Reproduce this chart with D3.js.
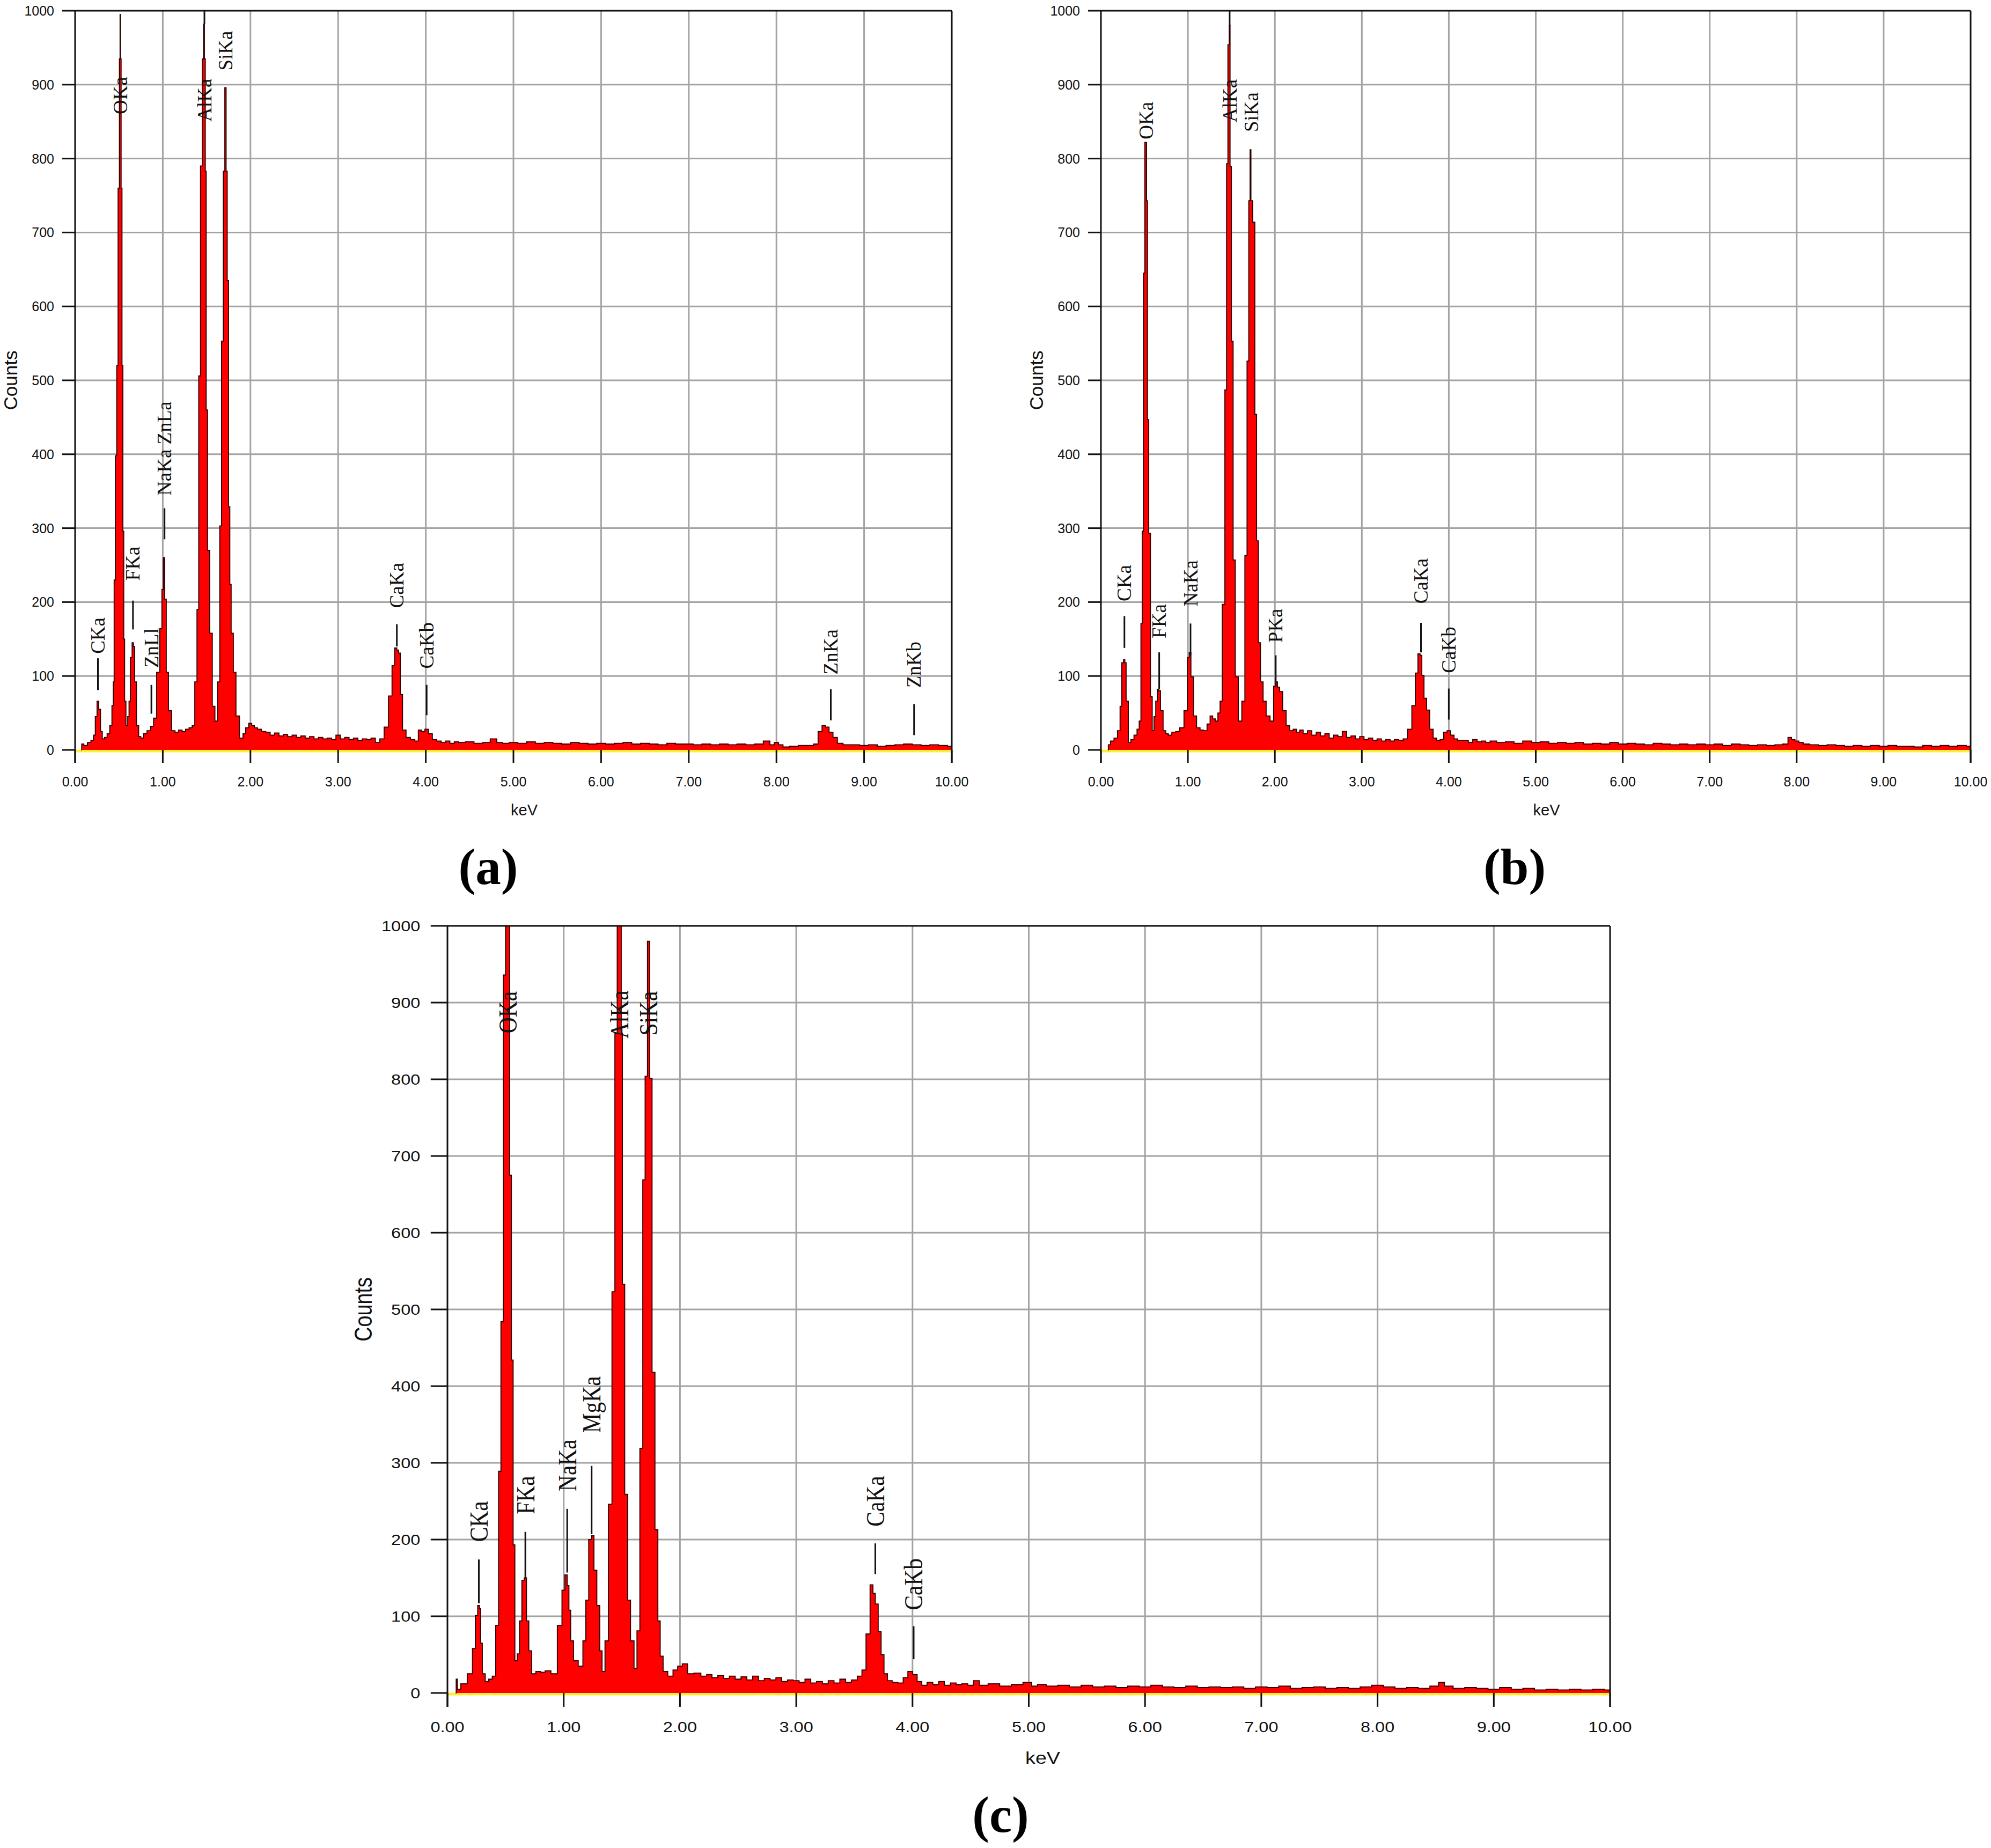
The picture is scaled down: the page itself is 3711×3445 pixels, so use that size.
<!DOCTYPE html>
<html>
<head>
<meta charset="utf-8">
<script src="https://cdn.jsdelivr.net/npm/d3@7/dist/d3.min.js"></script>
<style>
  html, body { margin: 0; padding: 0; background: #fff; }
  svg { display: block; }
</style>
</head>
<body>
<script>
// ---------------- DATA ----------------
const xTicks = [0, 1, 2, 3, 4, 5, 6, 7, 8, 9, 10];
const xTickLabels = ["0.00","1.00","2.00","3.00","4.00","5.00","6.00","7.00","8.00","9.00","10.00"];
const yTicks = [0, 100, 200, 300, 400, 500, 600, 700, 800, 900, 1000];
const yTickLabels = ["0","100","200","300","400","500","600","700","800","900","1000"];
const xTitle = "keV";
const yTitle = "Counts";
const captions = ["(a)", "(b)", "(c)"];

// spectrum (a): [keV, counts]
const specA = [
  [0.07,0],[0.08,8],[0.12,6],[0.16,10],[0.20,13],[0.22,20],[0.24,45],[0.26,66],[0.28,55],[0.30,25],
  [0.32,15],[0.35,17],[0.38,22],[0.41,33],[0.43,60],[0.44,92],[0.45,230],[0.47,398],[0.48,520],[0.50,760],
  [0.51,935],[0.515,995],[0.52,935],[0.53,760],[0.54,520],[0.55,296],[0.56,150],[0.57,66],[0.59,33],[0.61,45],
  [0.62,66],[0.64,125],[0.66,145],[0.67,140],[0.69,92],[0.71,33],[0.74,18],[0.76,16],[0.80,22],[0.84,26],
  [0.88,32],[0.91,43],[0.95,105],[0.98,164],[1.00,217],[1.015,260],[1.03,204],[1.05,105],[1.08,53],[1.12,26],
  [1.16,24],[1.20,27],[1.24,25],[1.28,28],[1.32,30],[1.35,33],[1.38,92],[1.40,190],[1.42,506],[1.44,790],
  [1.46,935],[1.47,982],[1.48,935],[1.49,783],[1.50,460],[1.52,270],[1.55,158],[1.58,59],[1.61,39],[1.64,92],
  [1.66,303],[1.68,553],[1.70,783],[1.715,896],[1.73,783],[1.74,635],[1.76,329],[1.77,224],[1.79,158],[1.82,105],
  [1.85,46],[1.90,16],[1.93,22],[1.96,30],[2.00,36],[2.03,33],[2.06,30],[2.10,28],[2.15,25],[2.20,24],
  [2.25,20],[2.30,23],[2.35,19],[2.40,21],[2.45,18],[2.50,20],[2.55,17],[2.60,19],[2.65,16],[2.70,18],
  [2.75,15],[2.80,17],[2.85,15],[2.90,16],[2.95,14],[3.00,20],[3.05,15],[3.10,17],[3.15,14],[3.20,16],
  [3.25,13],[3.30,15],[3.35,14],[3.40,16],[3.45,10],[3.50,15],[3.55,31],[3.60,73],[3.63,114],[3.66,138],
  [3.68,135],[3.70,131],[3.72,75],[3.75,27],[3.80,17],[3.85,14],[3.90,12],[3.93,27],[3.97,25],[4.01,28],
  [4.05,22],[4.10,14],[4.15,12],[4.20,10],[4.25,12],[4.30,9],[4.35,11],[4.40,10],[4.50,11],[4.60,9],
  [4.70,10],[4.77,15],[4.85,10],[4.90,9],[5.00,10],[5.10,9],[5.20,11],[5.30,9],[5.40,10],[5.50,9],
  [5.60,8],[5.70,10],[5.80,9],[5.90,8],[6.00,9],[6.10,8],[6.20,9],[6.30,10],[6.40,8],[6.50,9],
  [6.60,8],[6.70,7],[6.80,9],[6.90,8],[7.00,8],[7.10,7],[7.20,8],[7.30,7],[7.40,8],[7.50,7],
  [7.60,8],[7.70,7],[7.80,8],[7.90,12],[7.95,7],[8.00,10],[8.05,7],[8.10,4],[8.20,5],[8.30,6],
  [8.40,6],[8.45,8],[8.50,25],[8.54,33],[8.58,31],[8.62,24],[8.67,17],[8.72,9],[8.80,7],[8.90,7],
  [9.00,6],[9.10,7],[9.20,5],[9.30,6],[9.40,7],[9.50,8],[9.60,7],[9.70,6],[9.80,7],[9.90,6],[10.00,5]
];

// spectrum (b)
const specB = [
  [0.08,0],[0.09,7],[0.13,12],[0.17,16],[0.21,26],[0.23,59],[0.25,118],[0.27,122],[0.28,118],[0.30,66],
  [0.33,10],[0.36,14],[0.40,20],[0.43,28],[0.45,39],[0.47,171],[0.48,296],[0.50,645],[0.51,822],[0.52,822],
  [0.53,743],[0.54,447],[0.56,293],[0.58,72],[0.60,26],[0.62,45],[0.64,66],[0.66,82],[0.67,80],[0.70,53],
  [0.73,26],[0.76,22],[0.79,20],[0.84,24],[0.88,25],[0.93,30],[0.98,53],[1.01,125],[1.02,132],[1.05,99],
  [1.08,46],[1.12,30],[1.16,27],[1.20,26],[1.24,35],[1.27,46],[1.30,42],[1.33,39],[1.36,50],[1.38,66],
  [1.41,197],[1.44,487],[1.45,793],[1.47,954],[1.48,980],[1.49,789],[1.51,553],[1.53,257],[1.56,99],[1.60,39],
  [1.64,66],[1.67,263],[1.69,526],[1.71,743],[1.72,812],[1.73,743],[1.76,714],[1.78,454],[1.80,283],[1.82,145],
  [1.85,92],[1.88,66],[1.92,46],[1.97,39],[2.00,86],[2.02,92],[2.04,85],[2.07,79],[2.11,53],[2.15,33],
  [2.19,26],[2.23,28],[2.27,24],[2.30,27],[2.35,22],[2.40,26],[2.45,20],[2.50,24],[2.55,19],[2.60,22],
  [2.65,16],[2.70,20],[2.75,18],[2.80,25],[2.85,17],[2.90,19],[2.95,15],[3.00,18],[3.05,14],[3.10,16],
  [3.15,13],[3.20,15],[3.25,12],[3.30,14],[3.35,12],[3.40,14],[3.45,13],[3.50,15],[3.55,28],[3.60,60],
  [3.63,104],[3.66,130],[3.68,128],[3.70,101],[3.73,70],[3.76,54],[3.80,28],[3.84,16],[3.88,13],[3.92,14],
  [3.96,24],[4.00,26],[4.04,20],[4.08,15],[4.12,13],[4.20,13],[4.25,10],[4.30,14],[4.35,11],[4.40,12],
  [4.45,10],[4.50,12],[4.60,10],[4.70,11],[4.80,9],[4.90,12],[5.00,10],[5.10,11],[5.20,9],[5.30,10],
  [5.40,9],[5.50,10],[5.60,8],[5.70,9],[5.80,8],[5.90,10],[6.00,8],[6.10,9],[6.20,8],[6.30,7],
  [6.40,9],[6.50,8],[6.60,7],[6.70,8],[6.80,7],[6.90,8],[7.00,7],[7.10,8],[7.20,6],[7.30,8],
  [7.40,7],[7.50,6],[7.60,7],[7.70,6],[7.80,7],[7.88,8],[7.92,17],[7.96,14],[8.00,12],[8.05,10],
  [8.10,8],[8.20,7],[8.30,6],[8.40,7],[8.50,6],[8.60,5],[8.70,6],[8.80,5],[8.90,6],[9.00,5],
  [9.10,6],[9.20,5],[9.30,5],[9.40,4],[9.50,6],[9.60,5],[9.70,6],[9.80,5],[9.90,6],[10.00,5]
];

// spectrum (c)
const specC = [
  [0.07,0],[0.08,18],[0.09,5],[0.14,12],[0.20,25],[0.23,58],[0.25,101],[0.27,114],[0.28,110],[0.29,65],
  [0.31,25],[0.34,15],[0.37,18],[0.40,22],[0.43,88],[0.45,289],[0.47,484],[0.49,936],[0.51,1000],[0.53,1000],
  [0.54,675],[0.56,434],[0.57,193],[0.59,42],[0.61,51],[0.63,94],[0.65,147],[0.67,150],[0.69,94],[0.71,55],
  [0.74,25],[0.78,28],[0.82,27],[0.86,29],[0.92,25],[0.97,88],[1.00,134],[1.02,154],[1.04,140],[1.05,108],
  [1.07,68],[1.10,42],[1.15,35],[1.18,68],[1.20,121],[1.23,200],[1.25,205],[1.27,160],[1.30,114],[1.32,55],
  [1.34,28],[1.37,68],[1.40,246],[1.43,523],[1.45,860],[1.47,1000],[1.49,1000],[1.50,860],[1.51,533],[1.54,259],
  [1.56,121],[1.59,68],[1.62,32],[1.64,81],[1.67,319],[1.69,669],[1.71,804],[1.73,980],[1.75,801],[1.77,418],
  [1.80,213],[1.82,94],[1.84,48],[1.87,28],[1.92,22],[1.96,30],[2.00,35],[2.04,38],[2.09,25],[2.15,26],
  [2.21,22],[2.25,24],[2.30,20],[2.35,23],[2.40,19],[2.45,22],[2.50,18],[2.55,21],[2.60,17],[2.65,22],
  [2.70,16],[2.75,19],[2.80,17],[2.85,20],[2.90,15],[2.95,17],[3.00,16],[3.05,14],[3.10,18],[3.15,13],
  [3.20,15],[3.25,12],[3.30,16],[3.35,13],[3.40,18],[3.45,14],[3.50,17],[3.55,22],[3.58,30],[3.62,77],
  [3.65,141],[3.67,130],[3.69,116],[3.72,80],[3.74,50],[3.77,25],[3.80,16],[3.85,14],[3.90,13],[3.94,20],
  [3.98,28],[4.02,24],[4.06,15],[4.10,10],[4.15,14],[4.20,11],[4.25,15],[4.30,10],[4.35,13],[4.40,11],
  [4.45,12],[4.50,10],[4.55,16],[4.60,10],[4.70,12],[4.80,9],[4.90,11],[5.00,14],[5.05,9],[5.10,11],
  [5.20,9],[5.30,10],[5.40,8],[5.50,10],[5.60,8],[5.70,9],[5.80,7],[5.90,9],[6.00,8],[6.10,10],
  [6.20,8],[6.30,7],[6.40,9],[6.50,7],[6.60,8],[6.70,7],[6.80,8],[6.90,6],[7.00,8],[7.10,7],
  [7.20,9],[7.30,6],[7.40,7],[7.50,8],[7.60,6],[7.70,7],[7.80,6],[7.90,8],[8.00,10],[8.10,8],
  [8.20,6],[8.30,7],[8.40,6],[8.50,9],[8.55,14],[8.60,9],[8.70,6],[8.80,7],[8.90,6],[9.00,5],
  [9.10,7],[9.20,5],[9.30,6],[9.40,4],[9.50,5],[9.60,4],[9.70,5],[9.80,4],[9.90,5],[10.00,4]
];

// peak labels: [text, keV, marker line low, marker line high (counts; null = none), label start (counts)]
const peaksA = [
  ["CKa", 0.26, 81, 124, 130],
  ["OKa", 0.515, null, null, 860],
  ["FKa", 0.66, 163, 202, 229],
  ["ZnLl", 0.87, 49, 88, 111],
  ["NaKa ZnLa", 1.02, 285, 327, 344],
  ["AlKa", 1.475, 982, 1000, 850],
  ["SiKa", 1.715, null, null, 919],
  ["CaKa", 3.67, 140, 170, 192],
  ["CaKb", 4.01, 47, 88, 110],
  ["ZnKa", 8.62, 40, 82, 102],
  ["ZnKb", 9.57, 20, 62, 84]
];
const peaksB = [
  ["CKa", 0.27, 138, 181, 201],
  ["OKa", 0.52, null, null, 826],
  ["FKa", 0.67, 82, 132, 151],
  ["NaKa", 1.03, 128, 171, 194],
  ["AlKa", 1.48, 980, 1000, 849],
  ["SiKa", 1.73, null, null, 836],
  ["PKa", 2.01, 86, 128, 145],
  ["CaKa", 3.68, 132, 172, 198],
  ["CaKb", 4.00, 41, 83, 104]
];
const peaksC = [
  ["CKa", 0.27, 117, 174, 197],
  ["OKa", 0.52, null, null, 860],
  ["FKa", 0.67, 150, 210, 233],
  ["NaKa", 1.03, 157, 240, 263],
  ["MgKa", 1.24, 207, 296, 339],
  ["AlKa", 1.48, null, null, 853],
  ["SiKa", 1.73, null, null, 857],
  ["CaKa", 3.68, 155, 195, 217],
  ["CaKb", 4.01, 44, 87, 108]
];

// ---------------- DRAW ----------------
const W = 3711, H = 3445;
const svg = d3.select("body").append("svg").attr("width", W).attr("height", H)
  .style("background", "#fff");
svg.append("rect").attr("width", W).attr("height", H).attr("fill", "#fff");

const panels = [
  { spec: specA, peaks: peaksA, cap: captions[0], x0: 140, x1: 1774, yTop: 20, yBot: 1398, sx: 1.0, sy: 1.0, ly: 1.0, capX: 910, capY: 1648 },
  { spec: specB, peaks: peaksB, cap: captions[1], x0: 2052, x1: 3673, yTop: 20, yBot: 1398, sx: 1.0, sy: 1.0, ly: 1.0, capX: 2823, capY: 1648 },
  { spec: specC, peaks: peaksC, cap: captions[2], x0: 834, x1: 3001, yTop: 1726, yBot: 3156, sx: 1.3, sy: 1.08, ly: 1.12, capX: 1865, capY: 3415 }
];

const SANS = "'Liberation Sans', Arial, sans-serif";
const SERIF = "'Liberation Serif', 'Times New Roman', serif";

panels.forEach(p => {
  const x = d3.scaleLinear().domain([0, 10]).range([p.x0, p.x1]);
  const y = d3.scaleLinear().domain([0, 1000]).range([p.yBot, p.yTop]);
  const g = svg.append("g");
  const tickLen = 24 * p.sx;
  const tickLenV = 24 * p.sy;

  // grid
  g.append("g").selectAll("line.h").data(yTicks.filter(v => v > 0 && v < 1000)).join("line")
    .attr("x1", p.x0).attr("x2", p.x1).attr("y1", d => y(d)).attr("y2", d => y(d))
    .attr("stroke", "#a3a3a3").attr("stroke-width", 3);
  g.append("g").selectAll("line.v").data(xTicks.filter(v => v > 0 && v < 10)).join("line")
    .attr("x1", d => x(d)).attr("x2", d => x(d)).attr("y1", p.yTop).attr("y2", p.yBot)
    .attr("stroke", "#a3a3a3").attr("stroke-width", 3);

  // yellow baseline
  g.append("line").attr("x1", p.x0).attr("x2", p.x1)
    .attr("y1", y(0) + 2).attr("y2", y(0) + 2)
    .attr("stroke", "#ffee33").attr("stroke-width", 5);

  // spectrum
  const clamp = v => Math.min(v, 1000);
  const area = d3.area().x(d => x(d[0])).y0(y(0)).y1(d => y(clamp(d[1]))).curve(d3.curveStep);
  const line = d3.line().x(d => x(d[0])).y(d => y(clamp(d[1]))).curve(d3.curveStep);
  g.append("path").datum(p.spec).attr("d", area).attr("fill", "#ff0000");
  g.append("path").datum(p.spec).attr("d", line).attr("fill", "none")
    .attr("stroke", "#2a0000").attr("stroke-width", 1.8).attr("stroke-linejoin", "miter");

  // frame
  g.append("line").attr("x1", p.x0).attr("x2", p.x1).attr("y1", p.yTop).attr("y2", p.yTop)
    .attr("stroke", "#111").attr("stroke-width", 3);
  g.append("line").attr("x1", p.x0).attr("x2", p.x0).attr("y1", p.yTop).attr("y2", p.yBot + tickLenV)
    .attr("stroke", "#111").attr("stroke-width", 3);
  g.append("line").attr("x1", p.x1).attr("x2", p.x1).attr("y1", p.yTop).attr("y2", p.yBot + tickLenV)
    .attr("stroke", "#111").attr("stroke-width", 3);

  // y ticks
  g.append("g").selectAll("line").data(yTicks).join("line")
    .attr("x1", p.x0 - tickLen).attr("x2", p.x0).attr("y1", d => y(d)).attr("y2", d => y(d))
    .attr("stroke", "#111").attr("stroke-width", 3);
  g.append("g").selectAll("text").data(yTicks).join("text")
    .attr("transform", d => `translate(${p.x0 - 39 * p.sx},${y(d)}) scale(${p.sx},${p.sy})`)
    .attr("text-anchor", "end").attr("dy", "0.36em")
    .attr("font-family", SANS).attr("font-size", 25).attr("fill", "#111")
    .text((d, i) => yTickLabels[i]);

  // x ticks
  g.append("g").selectAll("line").data(xTicks).join("line")
    .attr("x1", d => x(d)).attr("x2", d => x(d)).attr("y1", p.yBot).attr("y2", p.yBot + tickLenV)
    .attr("stroke", "#111").attr("stroke-width", 3);
  g.append("g").selectAll("text").data(xTicks).join("text")
    .attr("transform", d => `translate(${x(d)},${p.yBot + 59 * p.sy}) scale(${p.sx},${p.sy})`)
    .attr("text-anchor", "middle").attr("dy", "0.36em")
    .attr("font-family", SANS).attr("font-size", 25).attr("fill", "#111")
    .text((d, i) => xTickLabels[i]);

  // axis titles
  g.append("text")
    .attr("transform", `translate(${(p.x0 + p.x1) / 2 + 20 * p.sx},${p.yBot + 112 * p.sy}) scale(${p.sx},${p.sy})`)
    .attr("text-anchor", "middle").attr("dy", "0.36em")
    .attr("font-family", SANS).attr("font-size", 29).attr("fill", "#111").text(xTitle);
  g.append("text")
    .attr("transform", `translate(${p.x0 - 121 * p.sx},${(p.yTop + p.yBot) / 2}) scale(${p.sx},${p.sy}) rotate(-90)`)
    .attr("text-anchor", "middle").attr("dy", "0.36em")
    .attr("font-family", SANS).attr("font-size", 35).attr("fill", "#111").text(yTitle);

  // peak markers and labels
  p.peaks.forEach(pk => {
    const [txt, kev, lo, hi, lab] = pk;
    if (lo !== null) {
      g.append("line").attr("x1", x(kev)).attr("x2", x(kev)).attr("y1", y(lo)).attr("y2", y(hi))
        .attr("stroke", "#111").attr("stroke-width", 3);
    }
    g.append("text")
      .attr("transform", `translate(${x(kev)},${y(lab)}) scale(${p.sx},${p.ly}) rotate(-90)`)
      .attr("text-anchor", "start").attr("dy", "0.34em")
      .attr("font-family", SERIF).attr("font-size", 37).attr("fill", "#111").text(txt);
  });

  // caption
  svg.append("text").attr("x", p.capX).attr("y", p.capY).attr("text-anchor", "middle")
    .attr("font-family", SERIF).attr("font-weight", "bold").attr("font-size", 95)
    .attr("fill", "#000").text(p.cap);
});
</script>
</body>
</html>
